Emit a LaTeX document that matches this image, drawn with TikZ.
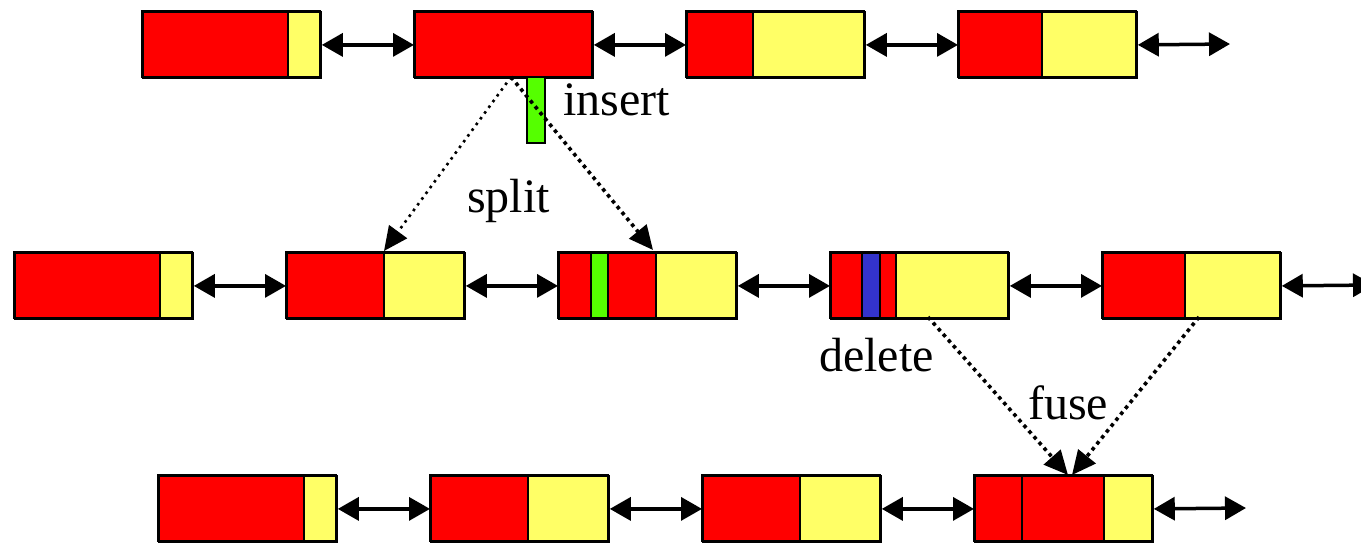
\documentclass[tikz,border=0pt]{standalone}
\usepackage{fontspec}
\setmainfont{Liberation Serif}
\usetikzlibrary{arrows.meta}
\definecolor{blkred}{RGB}{255,0,0}
\definecolor{blkyellow}{RGB}{255,255,102}
\definecolor{blkgreen}{RGB}{85,255,0}
\definecolor{blkblue}{RGB}{51,51,204}

\begin{document}
\begin{tikzpicture}[x=1pt,y=-1pt,
  seg/.style={draw=black,line width=1.8pt},
  box/.style={draw=black,line width=1.8pt,minimum width=178pt,minimum height=66pt,
              inner sep=0pt,anchor=north west},
  link/.style={line width=3.5pt,
               {Triangle[length=21pt,width=23pt]}-{Triangle[length=21pt,width=23pt]}},
  move/.style={line width=3.6pt,dash pattern=on 3.6pt off 4pt,
               -{Triangle[length=24pt,width=22pt]}},
  lbl/.style={anchor=base west,inner sep=0pt,font=\fontsize{48}{58}\selectfont}
]
\clip (0,0) rectangle (1361,542);

% ---- coloured segments of every block ----
% upper list
\foreach \a/\b/\c in {142/288/blkred, 288/320/blkyellow, 414/592/blkred,
                      686/753/blkred, 753/864/blkyellow,
                      958/1042/blkred, 1042/1136/blkyellow}
  \filldraw[seg,fill=\c] (\a,11) rectangle (\b,77);
% middle list
\foreach \a/\b/\c in {14/160/blkred, 160/192/blkyellow,
                      286/384/blkred, 384/464/blkyellow,
                      558/591/blkred, 591/608/blkgreen, 608/656/blkred, 656/736/blkyellow,
                      830/862/blkred, 862/880/blkblue, 880/896/blkred, 896/1008/blkyellow,
                      1102/1185/blkred, 1185/1280/blkyellow}
  \filldraw[seg,fill=\c] (\a,252) rectangle (\b,318);
% lower list
\foreach \a/\b/\c in {158/304/blkred, 304/336/blkyellow,
                      430/528/blkred, 528/608/blkyellow,
                      702/800/blkred, 800/880/blkyellow,
                      974/1022/blkred, 1022/1104/blkred, 1104/1152/blkyellow}
  \filldraw[seg,fill=\c] (\a,475) rectangle (\b,541);

% ---- block outlines ----
\node[box] (t1) at (142,11) {};
\node[box] (t2) at (414,11) {};
\node[box] (t3) at (686,11) {};
\node[box] (t4) at (958,11) {};
\node[box] (m1) at (14,252) {};
\node[box] (m2) at (286,252) {};
\node[box] (m3) at (558,252) {};
\node[box] (m4) at (830,252) {};
\node[box] (m5) at (1102,252) {};
\node[box] (b1) at (158,475) {};
\node[box] (b2) at (430,475) {};
\node[box] (b3) at (702,475) {};
\node[box] (b4) at (974,475) {};

% ---- list links ----
\coordinate (tEnd) at (1230,44);
\coordinate (mEnd) at (1374,285);
\coordinate (bEnd) at (1246,508);
\draw[link] (t1.east) -- (t2.west);
\draw[link] (t2.east) -- (t3.west);
\draw[link] (t3.east) -- (t4.west);
\draw[link] (t4.east) -- (tEnd);
\draw[link] (m1.east) -- (m2.west);
\draw[link] (m2.east) -- (m3.west);
\draw[link] (m3.east) -- (m4.west);
\draw[link] (m4.east) -- (m5.west);
\draw[link] (m5.east) -- (mEnd);
\draw[link] (b1.east) -- (b2.west);
\draw[link] (b2.east) -- (b3.west);
\draw[link] (b3.east) -- (b4.west);
\draw[link] (b4.east) -- (bEnd);

% ---- inserted element ----
\node[draw=black,line width=1.5pt,fill=blkgreen,minimum width=18pt,minimum height=66pt,
      inner sep=0pt,anchor=north west] (ins) at (526,76) {};

% ---- split and fuse ----
\coordinate (spA) at (511,77);
\coordinate (spL) at (384,251);
\coordinate (spR) at (653,250);
\draw[move,line width=2.6pt,dash pattern=on 2.6pt off 4.5pt] (spA) -- (spL);
\draw[move] (spA) -- (spR);
\coordinate (fuA) at (928,317);
\coordinate (fuB) at (1199,317);
\coordinate (fuL) at (1068,475);
\coordinate (fuR) at (1072,475);
\draw[move] (fuA) -- (fuL);
\draw[move] (fuB) -- (fuR);

% ---- labels ----
\node[lbl] (linsert) at (563,115) {insert};
\node[lbl] (lsplit) at (467,212) {split};
\node[lbl] (ldelete) at (819,371) {delete};
\node[lbl] (lfuse) at (1028,419) {fuse};
\end{tikzpicture}
\end{document}
